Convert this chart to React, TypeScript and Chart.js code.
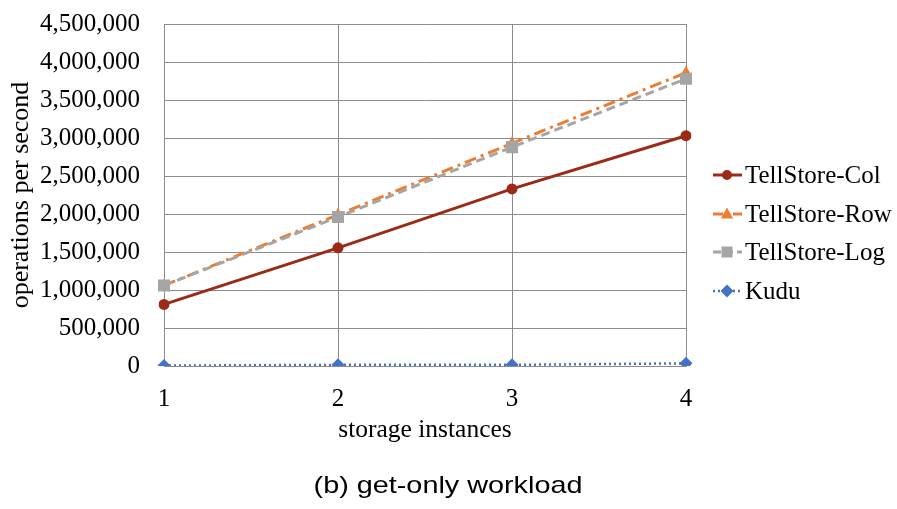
import React, { useEffect, useRef } from "react";
import { Chart, registerables } from "chart.js";

Chart.register(...registerables);

const categories = ["1", "2", "3", "4"];
const tellStoreCol = [810000, 1555000, 2330000, 3030000];
const tellStoreRow = [1060000, 1990000, 2930000, 3860000];
const tellStoreLog = [1060000, 1960000, 2880000, 3780000];
const kudu = [5000, 15000, 15000, 35000];
const yMax = 4500000;
const yStep = 500000;

const seriesNames = ["TellStore-Col", "TellStore-Row", "TellStore-Log", "Kudu"];
const xTitle = "storage instances";
const yTitle = "operations per second";
const caption = "(b) get-only workload";

const COL = "#9C2A17";
const ROW = "#ED7D31";
const LOG = "#A5A5A5";
const KUDU = "#4472C4";
const SERIF = "'Liberation Serif', 'Times New Roman', serif";
const SANS = "'Liberation Sans', Arial, sans-serif";

function drawMarker(ctx: CanvasRenderingContext2D, style: string, x: number, y: number, r: number, color: string) {
  ctx.save();
  ctx.fillStyle = color;
  ctx.beginPath();
  if (style === "circle") {
    ctx.arc(x, y, r, 0, Math.PI * 2);
  } else if (style === "triangle") {
    ctx.moveTo(x, y - r);
    ctx.lineTo(x + r * 0.95, y + r * 0.7);
    ctx.lineTo(x - r * 0.95, y + r * 0.7);
    ctx.closePath();
  } else if (style === "rect") {
    ctx.rect(x - r, y - r, 2 * r, 2 * r);
  } else {
    ctx.moveTo(x, y - r);
    ctx.lineTo(x + r, y);
    ctx.lineTo(x, y + r);
    ctx.lineTo(x - r, y);
    ctx.closePath();
  }
  ctx.fill();
  ctx.restore();
}

const legendItems = [
  { color: COL, dash: [] as number[], marker: "circle", size: 5, width: 3 },
  { color: ROW, dash: [10, 4, 2, 4], marker: "triangle", size: 6.5, width: 3 },
  { color: LOG, dash: [8, 4], marker: "rect", size: 5.5, width: 3 },
  { color: KUDU, dash: [2, 3], marker: "diamond", size: 6.5, width: 2.5 },
];

const decorPlugin = {
  id: "decor",
  afterDraw(chart: any) {
    const ctx: CanvasRenderingContext2D = chart.ctx;
    const area = chart.chartArea;
    ctx.save();
    ctx.fillStyle = "#000";
    // y title
    ctx.font = `26px ${SERIF}`;
    ctx.textAlign = "center";
    ctx.textBaseline = "middle";
    ctx.save();
    ctx.translate(21, (area.top + area.bottom) / 2);
    ctx.rotate(-Math.PI / 2);
    ctx.fillText(yTitle, 0, 0);
    ctx.restore();
    // x title
    ctx.font = `25.5px ${SERIF}`;
    ctx.textBaseline = "alphabetic";
    ctx.fillText(xTitle, (area.left + area.right) / 2, 437);
    // caption (slightly wide lettering)
    ctx.save();
    ctx.font = `24px ${SANS}`;
    ctx.translate(448, 493);
    ctx.scale(1.2, 1);
    ctx.fillText(caption, 0, 0);
    ctx.restore();
    // legend
    const ys = [175, 214, 252, 291];
    legendItems.forEach((it, i) => {
      const y = ys[i];
      ctx.save();
      ctx.strokeStyle = it.color;
      ctx.lineWidth = it.width;
      ctx.setLineDash(it.dash);
      ctx.beginPath();
      ctx.moveTo(713, y);
      ctx.lineTo(742, y);
      ctx.stroke();
      ctx.restore();
      drawMarker(ctx, it.marker, 727, y, it.size, it.color);
      ctx.font = `25px ${SERIF}`;
      ctx.textAlign = "left";
      ctx.textBaseline = "middle";
      ctx.fillStyle = "#000";
      ctx.fillText(seriesNames[i], 745, y + 1);
    });
    ctx.restore();
  },
};

export default function App() {
  const ref = useRef<HTMLCanvasElement | null>(null);
  useEffect(() => {
    if (!ref.current) return;
    const chart = new Chart(ref.current, {
      type: "line",
      data: {
        labels: categories,
        datasets: [
          {
            label: seriesNames[0],
            data: tellStoreCol,
            borderColor: COL,
            backgroundColor: COL,
            borderWidth: 3,
            pointStyle: "circle",
            pointRadius: 5.5,
            pointBorderWidth: 0,
            order: 3,
          },
          {
            label: seriesNames[1],
            data: tellStoreRow,
            borderColor: ROW,
            backgroundColor: ROW,
            borderWidth: 3,
            borderDash: [12, 5, 3, 5],
            pointStyle: "triangle",
            pointRadius: 7,
            pointBorderWidth: 0,
            order: 2,
          },
          {
            label: seriesNames[2],
            data: tellStoreLog,
            borderColor: LOG,
            backgroundColor: LOG,
            borderWidth: 3,
            borderDash: [9, 5],
            pointStyle: "rect",
            pointRadius: 8.5,
            pointBorderWidth: 0,
            order: 1,
          },
          {
            label: seriesNames[3],
            data: kudu,
            borderColor: KUDU,
            backgroundColor: KUDU,
            borderWidth: 2.5,
            borderDash: [2, 3],
            pointStyle: "rectRot",
            pointRadius: 6.5,
            pointBorderWidth: 0,
            order: 0,
          },
        ],
      },
      options: {
        animation: false,
        responsive: false,
        layout: { padding: { left: 0, right: 211, top: 24, bottom: 0 } },
        plugins: { legend: { display: false }, tooltip: { enabled: false }, title: { display: false } },
        scales: {
          x: {
            type: "category",
            offset: false,
            afterFit: (s: any) => {
              s.height = 143;
            },
            grid: { color: "#8c8c8c", lineWidth: 1, drawTicks: false },
            border: { color: "#8c8c8c", width: 1 },
            ticks: { color: "#000", font: { family: SERIF, size: 25 }, padding: 18, maxRotation: 0 },
          },
          y: {
            min: 0,
            max: yMax,
            afterFit: (s: any) => {
              s.width = 164;
              s.paddingTop = 12;
              s.paddingBottom = 0;
            },
            grid: { color: "#8c8c8c", lineWidth: 1, drawTicks: false },
            border: { color: "#8c8c8c", width: 1 },
            ticks: {
              stepSize: yStep,
              color: "#000",
              font: { family: SERIF, size: 25 },
              padding: 24,
              callback: (v: any) => Number(v).toLocaleString("en-US"),
            },
          },
        },
      },
      plugins: [decorPlugin],
    });
    return () => chart.destroy();
  }, []);
  return (
    <div style={{ position: "fixed", left: 0, top: 0, width: 897, height: 509, background: "#fff" }}>
      <canvas ref={ref} width={897} height={509} />
    </div>
  );
}
